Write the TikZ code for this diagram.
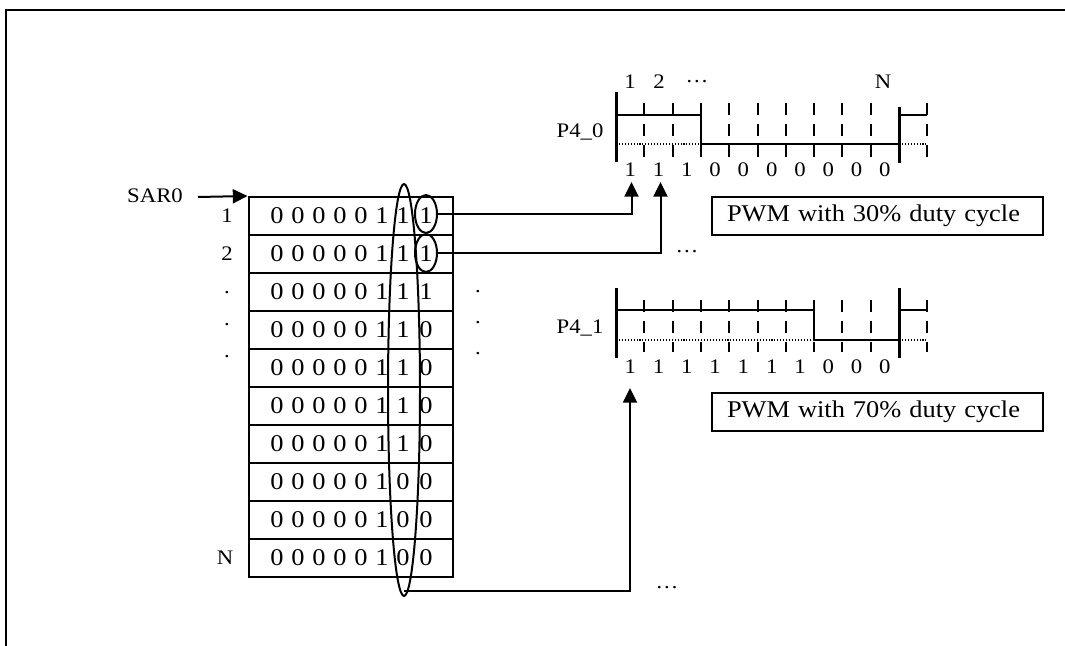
\documentclass[tikz,border=0pt]{standalone}
\usepackage{fontspec}
\setmainfont{Liberation Serif}[FakeStretch=1.1]
\usetikzlibrary{arrows.meta,shapes.geometric}
\begin{document}
\begin{tikzpicture}[x=0.75pt,y=-0.75pt,
  line width=1.5pt,
  big/.style={font=\fontsize{18}{21}\selectfont, inner sep=0pt},
  lbl/.style={font=\fontsize{15.5}{18}\selectfont, inner sep=0pt},
  cell/.style={draw, line width=1.5pt, minimum width=153pt, minimum height=28.5pt, inner sep=0pt},
  oval/.style={draw, ellipse, line width=1.5pt, inner sep=0pt},
  arr/.style={-{Triangle[length=11pt,width=10.5pt]}, line width=1.5pt},
  wave/.style={line width=1.5pt},
  edgeline/.style={line width=2.25pt},
  tickline/.style={line width=1.5pt, dash pattern=on 9pt off 6.75pt},
  dotline/.style={line width=0.8pt, dash pattern=on 0.8pt off 1.4pt},
  pwmbox/.style={draw, line width=1.5pt, minimum height=28.5pt, inner xsep=11.25pt, inner ysep=0pt,
    text width=225.75pt, align=left, font=\fontsize{18}{21}\selectfont}
]
\useasboundingbox (0,0) rectangle (1065,646);
% frame
\draw[line width=1.5pt] (6,646) -- (6,10) -- (1065,10);

% table
\foreach \r/\b/\c in {1/1/1,2/1/1,3/1/1,4/1/0,5/1/0,6/1/0,7/1/0,8/0/0,9/0/0,10/0/0} {
  \node[cell] (row\r) at (350.5,178+38*\r) {};
  \foreach \k/\x in {1/277,2/298,3/319,4/340,5/361}
    \node[big] (d\r-\k) at (\x,178+38*\r) {0};
  \node[big] (d\r-6) at (382,178+38*\r) {1};
  \node[big] (d\r-7) at (403,178+38*\r) {\b};
  \node[big] (d\r-8) at (426,178+38*\r) {\c};
}
% row labels
\node[lbl] (rl1) at (227,216) {1};
\node[lbl] (rl2) at (227,254) {2};
\node[lbl] (rl3) at (227,293) {.};
\node[lbl] (rl4) at (227,325) {.};
\node[lbl] (rl5) at (227,357) {.};
\node[lbl] (rlN) at (225,558) {N};
\node[lbl] (rd1) at (478,292) {.};
\node[lbl] (rd2) at (478,323) {.};
\node[lbl] (rd3) at (478,354) {.};

% SAR0
\node[lbl] (sar) at (155,196) {SAR0};
\coordinate (sarst) at (198,197);
\draw[arr] (sarst) -- (row1.north west);

% ovals
\node[oval, minimum width=16.5pt, minimum height=28.5pt] (o1) at (426,214) {};
\node[oval, minimum width=16.5pt, minimum height=28.5pt] (o2) at (426,253) {};
\node[oval, minimum width=24pt, minimum height=309pt] (bigov) at (404,390) {};

% waveform P4_0
\begin{scope}[shift={(0,115)}]
  \foreach \k in {1,...,9,11}
    \draw[tickline] (616+28.3*\k,-12) -- (616+28.3*\k,42);
  \draw[dotline] (616,29) -- (700.9,29);
  \draw[dotline] (899,29) -- (927.3,29);
  \draw[wave] (616,0) -- (700.9,0) -- (700.9,29) -- (899,29);
  \draw[wave] (899,0) -- (927.3,0);
  \draw[edgeline] (616,-23) -- (616,47);
  \draw[edgeline] (899,-8) -- (899,48);
\end{scope}
\node[lbl] (p40) at (580,132) {P4\_0};
\node[lbl] (h1) at (630,82) {1};
\node[lbl] (h2) at (659,82) {2};
\node[lbl] (h3) at (697,82) {…};
\node[lbl] (hN) at (883,82) {N};
\foreach \k/\v in {1/1,2/1,3/1,4/0,5/0,6/0,7/0,8/0,9/0,10/0}
  \node[lbl] (wa\k) at (630.2+28.3*\k-28.3,170) {\v};

% waveform P4_1
\begin{scope}[shift={(0,310)}]
  \foreach \k in {1,...,9,11}
    \draw[tickline] (616+28.3*\k,-10) -- (616+28.3*\k,42);
  \draw[dotline] (616,30) -- (814.1,30);
  \draw[dotline] (899,30) -- (927.3,30);
  \draw[wave] (616,0) -- (814.1,0) -- (814.1,30) -- (899,30);
  \draw[wave] (899,0) -- (927.3,0);
  \draw[edgeline] (616,-22) -- (616,48);
  \draw[edgeline] (899,-22) -- (899,48);
\end{scope}
\node[lbl] (p41) at (580,328) {P4\_1};
\foreach \k/\v in {1/1,2/1,3/1,4/1,5/1,6/1,7/1,8/0,9/0,10/0}
  \node[lbl] (wb\k) at (630.2+28.3*\k-28.3,367) {\v};

% PWM boxes
\node[pwmbox] (pwm1) at (877.5,216) {PWM with 30\% duty cycle};
\node[pwmbox] (pwm2) at (877.5,411.5) {PWM with 70\% duty cycle};

% connectors
\coordinate (a1) at (631.5,182);
\coordinate (a2) at (660.5,182);
\coordinate (a3) at (630,388);
\draw[arr] (o1.east) -| (a1);
\draw[arr] (o2.east) -| (a2);
\draw[arr] ([yshift=4.5pt]bigov.south) -| (a3);

\node[lbl] (e1) at (687,252) {…};
\node[lbl] (e2) at (667,588) {…};
\end{tikzpicture}
\end{document}
